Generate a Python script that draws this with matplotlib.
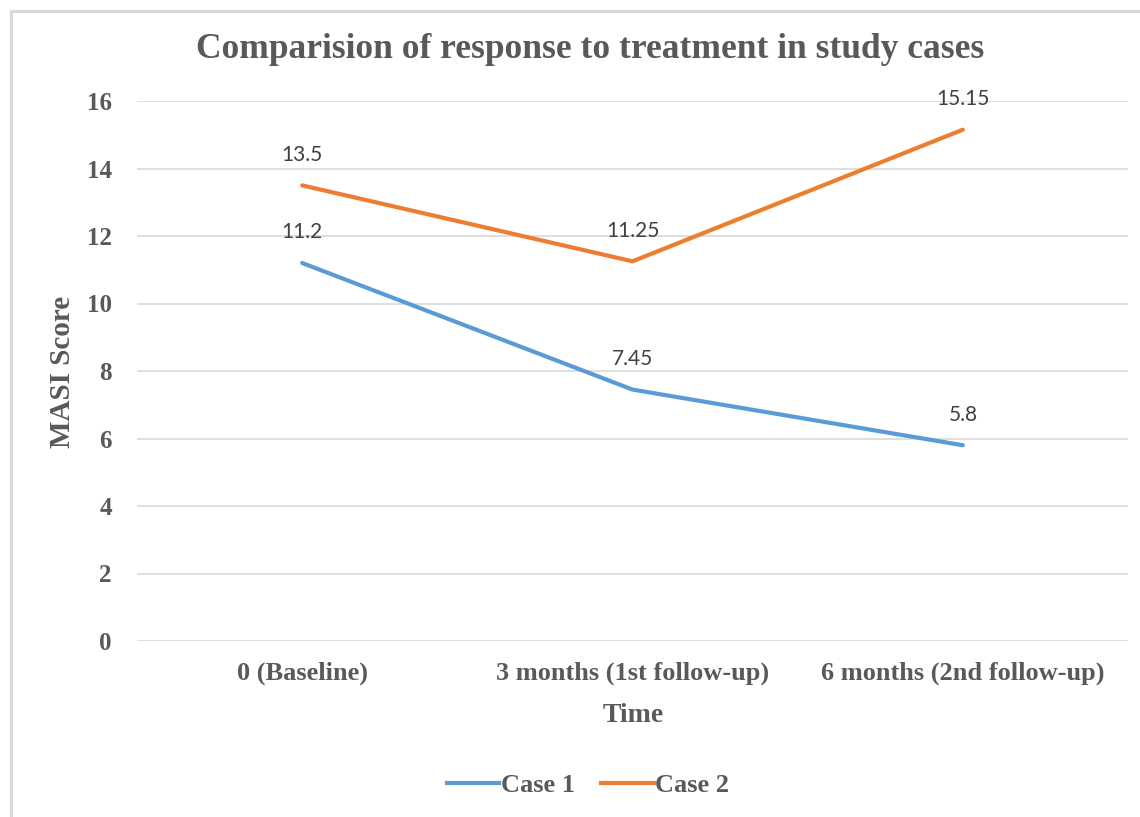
import matplotlib
matplotlib.use("Agg")
import matplotlib.pyplot as plt
from matplotlib.lines import Line2D

categories = ["0 (Baseline)", "3 months (1st follow-up)", "6 months (2nd follow-up)"]
case1 = [11.2, 7.45, 5.8]
case2 = [13.5, 11.25, 15.15]
case1_labels = ["11.2", "7.45", "5.8"]
case2_labels = ["13.5", "11.25", "15.15"]
yticks = [0, 2, 4, 6, 8, 10, 12, 14, 16]

W, H = 1140, 817
fig = plt.figure(figsize=(W / 100, H / 100), dpi=100)
ax = fig.add_axes([137 / W, 1 - 641 / H, (1128 - 137) / W, (641 - 101) / H])

serif = "Liberation Serif"
tcol = "#595959"
blue = "#5B9BD5"
orange = "#ED7D31"

x = list(range(len(categories)))
ax.plot(x, case1, color=blue, lw=3, solid_capstyle="round", label="Case 1", zorder=3)
ax.plot(x, case2, color=orange, lw=3, solid_capstyle="round", label="Case 2", zorder=3)

for xi, v, s in zip(x, case1, case1_labels):
    ax.annotate(s, (xi, v), xytext=(0, 22), textcoords="offset points",
                ha="center", va="center", fontsize=15, family="Lato", color="#404040")
for xi, v, s in zip(x, case2, case2_labels):
    ax.annotate(s, (xi, v), xytext=(0, 22), textcoords="offset points",
                ha="center", va="center", fontsize=15, family="Lato", color="#404040")

ax.set_xlim(-0.5, 2.5)
ax.set_ylim(0, 16)
ax.set_yticks(yticks)
ax.set_yticklabels([str(t) for t in yticks])
ax.set_xticks(x)
ax.set_xticklabels(categories)
ax.yaxis.grid(True, color="#D9D9D9", lw=1.2)
ax.set_axisbelow(True)
for sp in ax.spines.values():
    sp.set_visible(False)
ax.tick_params(axis="both", length=0)
ax.tick_params(axis="y", pad=18)
ax.tick_params(axis="x", pad=15)
for lab in ax.get_yticklabels():
    lab.set_fontfamily(serif)
    lab.set_fontweight("bold")
    lab.set_fontsize(18)
    lab.set_color(tcol)
for lab in ax.get_xticklabels():
    lab.set_fontfamily(serif)
    lab.set_fontweight("bold")
    lab.set_fontsize(19)
    lab.set_color(tcol)

fig.text(590 / W, 1 - 50 / H, "Comparision of response to treatment in study cases",
         ha="center", va="center", fontsize=25.5, family=serif, fontweight="bold", color=tcol)
fig.text(63 / W, 1 - 372 / H, "MASI Score", rotation=90, ha="center", va="center",
         fontsize=21, family=serif, fontweight="bold", color=tcol)
fig.text(633 / W, 1 - 716 / H, "Time", ha="center", va="center",
         fontsize=20, family=serif, fontweight="bold", color=tcol)

handles = [Line2D([], [], color=blue, lw=3), Line2D([], [], color=orange, lw=3)]
leg = fig.legend(handles, ["Case 1", "Case 2"], loc="center", bbox_to_anchor=(588 / W, 1 - 785 / H),
                 ncol=2, frameon=False, handlelength=2.0, handletextpad=0.05, columnspacing=1.0,
                 prop={"family": serif, "weight": "bold", "size": 19})
for t in leg.get_texts():
    t.set_color(tcol)

# outer border
fig.add_artist(Line2D([11 / W, 11 / W], [0, 1 - 11 / H], color="#D9D9D9", lw=2.2, transform=fig.transFigure))
fig.add_artist(Line2D([11 / W, 1], [1 - 11 / H, 1 - 11 / H], color="#D9D9D9", lw=2.2, transform=fig.transFigure))

fig.savefig("out.png", dpi=100)
